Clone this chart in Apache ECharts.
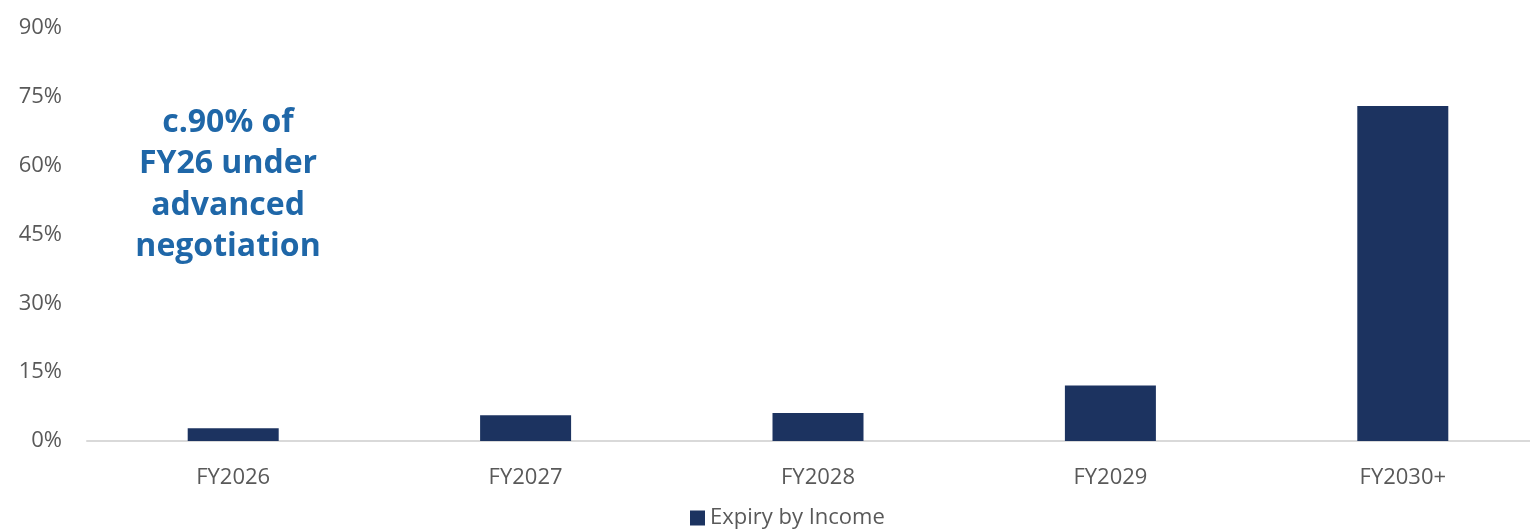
<!DOCTYPE html>
<html>
<head>
<meta charset="utf-8">
<script src="https://cdn.jsdelivr.net/npm/echarts@6/dist/echarts.min.js"></script>
<style>
  html, body { margin: 0; padding: 0; background: #fff; }
  #main { width: 1530px; height: 531px; }
</style>
</head>
<body>
<div id="main"></div>
<script>
const categories = ['FY2026', 'FY2027', 'FY2028', 'FY2029', 'FY2030+'];
const expiryByIncome = [2.8, 5.6, 6.1, 12.1, 73.0];
const seriesName = 'Expiry by Income';
const noteLines = ['c.90% of', 'FY26 under', 'advanced', 'negotiation'];

const font = '"Open Sans", "Noto Sans", sans-serif';
const chart = echarts.init(document.getElementById('main'));

chart.setOption({
  backgroundColor: '#ffffff',
  animation: false,
  textStyle: { fontFamily: font },
  grid: { left: 87, right: -19, top: 28, bottom: 90, outerBoundsMode: 'none', containLabel: false },
  legend: {
    bottom: -3,
    left: 685,
    itemWidth: 15,
    itemHeight: 15,
    icon: 'rect',
    itemGap: 10,
    textStyle: { color: '#595959', fontSize: 22, fontFamily: font },
    data: [seriesName]
  },
  xAxis: {
    type: 'category',
    data: categories,
    axisLine: { lineStyle: { color: '#d9d9d9', width: 2 } },
    axisTick: { show: false },
    axisLabel: { color: '#595959', fontSize: 22, margin: 26, fontFamily: font }
  },
  yAxis: {
    type: 'value',
    min: 0,
    max: 90,
    interval: 15,
    splitLine: { show: false },
    axisLine: { show: false },
    axisTick: { show: false },
    axisLabel: { color: '#595959', fontSize: 22, margin: 25, formatter: '{value}%', fontFamily: font }
  },
  series: [{
    name: seriesName,
    type: 'bar',
    data: expiryByIncome,
    barWidth: 91,
    itemStyle: { color: '#1c3360' }
  }],
  graphic: [{
    type: 'text',
    x: 228,
    y: 102,
    style: {
      text: noteLines.join('\n'),
      align: 'center',
      verticalAlign: 'top',
      fill: '#1f67a8',
      font: 'bold 32px ' + font,
      lineHeight: 41.5
    }
  }]
});
</script>
</body>
</html>
